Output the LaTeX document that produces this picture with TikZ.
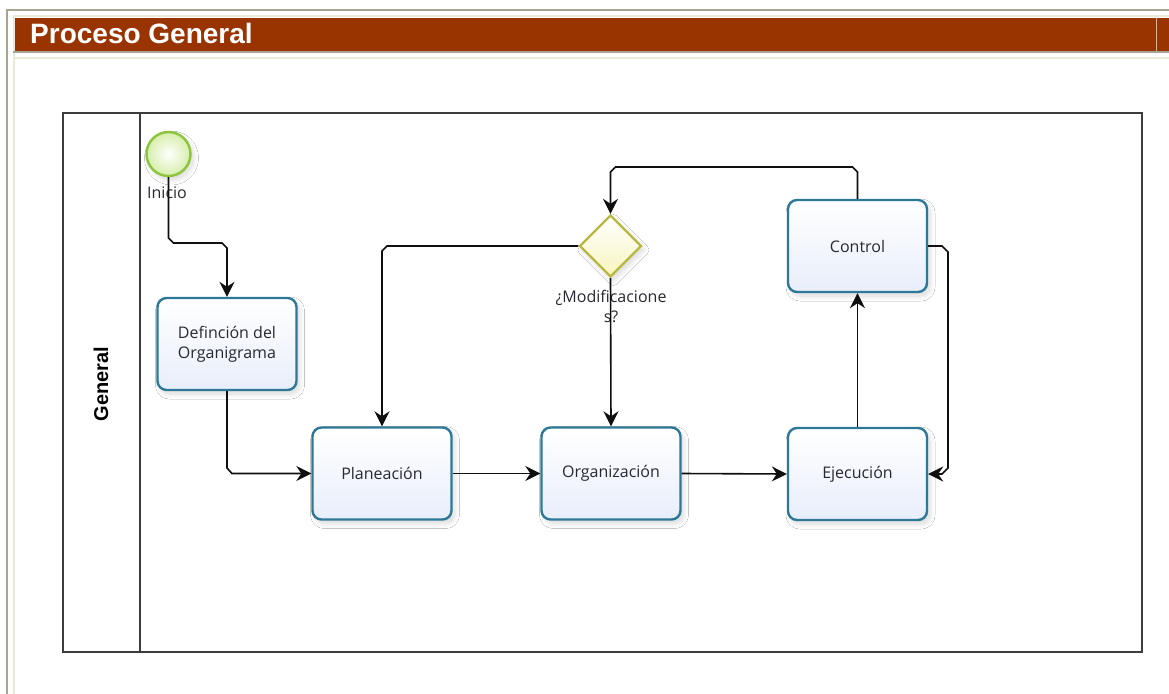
\documentclass[tikz,border=0pt]{standalone}
\usepackage{fontspec}
\setmainfont{Open Sans}
\newfontfamily\arialfont{Liberation Sans}
\usetikzlibrary{shapes.geometric,arrows.meta,shadows.blur}

\definecolor{barred}{RGB}{153,51,0}
\definecolor{framegray}{RGB}{168,164,148}
\definecolor{framecream}{RGB}{236,233,216}
\definecolor{taskedge}{RGB}{45,120,150}
\definecolor{taskfill}{RGB}{232,238,250}
\definecolor{startedge}{RGB}{140,196,60}
\definecolor{startfill}{RGB}{214,238,170}
\definecolor{gwedge}{RGB}{184,184,64}
\definecolor{gwfill}{RGB}{248,244,190}
\definecolor{inktext}{RGB}{40,40,50}
\definecolor{flowline}{RGB}{15,15,15}

\tikzset{
  softshadow/.style={blur shadow={shadow xshift=3pt, shadow yshift=-4pt,
      shadow blur steps=8, shadow blur radius=5pt, shadow opacity=15}},
  taskbox/.style={draw=taskedge, line width=2.4pt, rounded corners=9pt,
      top color=white, bottom color=taskfill, minimum width=139pt,
      minimum height=92pt, align=center, text=inktext,
      font=\fontsize{16}{20}\selectfont, softshadow},
  startev/.style={circle, draw=startedge, line width=2.4pt,
      inner color=white, outer color=startfill, minimum size=44pt,
      inner sep=0pt, softshadow},
  gateway/.style={diamond, draw=gwedge, line width=2.4pt, aspect=1,
      top color=white, bottom color=gwfill, minimum width=62pt,
      minimum height=62pt, inner sep=0pt, softshadow},
  evlabel/.style={text=inktext, font=\fontsize{16}{20}\selectfont,
      align=center, inner sep=0pt},
  flow/.style={draw=flowline, line width=1.6pt,
      -{Stealth[length=15pt,width=15pt,inset=5pt]}},
}

\begin{document}
\begin{tikzpicture}[x=1pt, y=-1pt]
\useasboundingbox (0,0) rectangle (1169,693);
\fill[white] (0,0) rectangle (1169,693);

% page frame
\draw[framegray, line width=2pt] (7,700) -- (7,10) -- (1175,10);
\draw[framecream, line width=2pt] (14,700) -- (14,16) -- (1175,16);

% title bar
\fill[barred] (15,18) rectangle (1169,51);
\draw[framecream!70!barred, line width=0.8pt] (1156,18) -- (1156,51);
\draw[framegray, line width=2pt] (13,52.5) -- (1175,52.5);
\draw[framecream, line width=2pt] (14,58.5) -- (1175,58.5);
\node[anchor=base west, text=white, inner sep=0pt,
      font=\arialfont\bfseries\fontsize{28}{32}\selectfont]
      (title) at (30,43.5) {Proceso General};

% pool and lane
\draw[draw={rgb,255:red,60;green,60;blue,60}, line width=1.5pt]
      (63,113) rectangle (1142,652);
\draw[draw={rgb,255:red,60;green,60;blue,60}, line width=1.5pt]
      (140,113) -- (140,652);
\node[rotate=90, font=\arialfont\bfseries\fontsize{20}{24}\selectfont]
      (lane) at (101,384) {General};

% flow objects
\node[startev] (start) at (168.5,154) {};
\node[evlabel] (startlbl) at (167,193) {Inicio};
\node[taskbox] (def) at (227,344) {Definción del\\Organigrama};
\node[taskbox] (plan) at (382,473.5) {Planeación};
\node[taskbox] (org) at (611,473.5) {Organización};
\node[taskbox] (eje) at (857.5,474) {Ejecución};
\node[taskbox] (ctrl) at (857.5,246) {Control};
\node[gateway] (gw) at (610.5,246) {};
\node[evlabel] (gwlbl) at (611,306) {¿Modificacione\\s?};

% sequence flows
\draw[flow] (start.south) -- (168.5,238) -- (173.5,243) -- (222,243)
      -- (227,248) -- (def.north);
\draw[flow] (def.south) -- (227,468) -- (232,473.5) -- (plan.west);
\draw[flow] (plan.east) -- (org.west);
\draw[flow] (org.east) -- (eje.west);
\draw[flow] (eje.north) -- (ctrl.south);
\draw[flow] (ctrl.east) -- (942,246) -- (948,252) -- (948,468)
      -- (942,474) -- (eje.east);
\draw[flow] (ctrl.north) -- (857.5,172) -- (852.5,167) -- (615.5,167)
      -- (610.5,172) -- (gw.north);
\draw[flow] (gw.west) -- (387,246) -- (382,251) -- (plan.north);
\draw[flow] (gw.south) -- (org.north);
\end{tikzpicture}
\end{document}
